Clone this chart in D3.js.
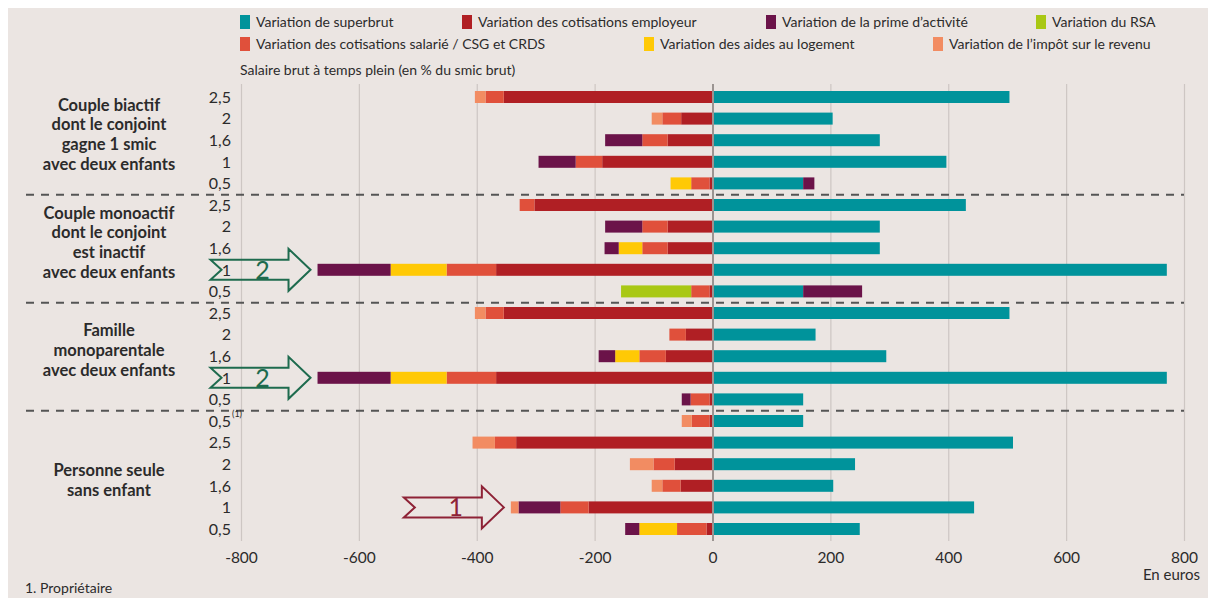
<!DOCTYPE html>
<html lang="fr">
<head>
<meta charset="utf-8">
<script src="https://cdn.jsdelivr.net/npm/d3@7"></script>
<style>
body { margin:0; background:#fff; }
svg { display:block; font-family: Lato, "Open Sans", sans-serif; }
text { fill:#2b2b2b; }
line.grid { stroke:#cdc6c3; stroke-width:1.2; }
line.zero { stroke:#9b9491; stroke-width:2; }
line.sep { stroke:#555; stroke-width:2; stroke-dasharray:8,7; }
text.glabel { font-weight:bold; font-size:16.5px; text-anchor:middle; }
text.rlabel { font-size:16px; text-anchor:end; }
text.tick { font-size:15.5px; text-anchor:middle; }
g.legend text { font-size:14px; }
</style>
<script>

var W = 1208, H = 598;

// series, in stacking order (positives: superbrut, prime ; negatives: the rest)
var seriesKeys = ['superbrut','employeur','salarie','rsa','logement','prime','impot'];
var seriesNames = {
	superbrut: 'Variation de superbrut',
	employeur: 'Variation des cotisations employeur',
	prime: 'Variation de la prime d\u2019activit\u00e9',
	rsa: 'Variation du RSA',
	salarie: 'Variation des cotisations salari\u00e9 / CSG et CRDS',
	logement: 'Variation des aides au logement',
	impot: 'Variation de l\u2019imp\u00f4t sur le revenu'
};
var seriesColors = {
	superbrut:'#00939b', employeur:'#b01f24', prime:'#6b1349', rsa:'#a9c814',
	salarie:'#e0503b', logement:'#ffc905', impot:'#f28c62'
};

var rowLabels = ['2,5','2','1,6','1','0,5', '2,5','2','1,6','1','0,5', '2,5','2','1,6','1','0,5', '0,5', '2,5','2','1,6','1','0,5'];
var rowNotes  = ['','','','','', '','','','','', '','','','','', '(1)', '','','','',''];
var rowGroup  = [0,0,0,0,0, 1,1,1,1,1, 2,2,2,2,2, 3, 3,3,3,3,3];
var groupLabels = [
	['Couple biactif','dont le conjoint','gagne 1 smic','avec deux enfants'],
	['Couple monoactif','dont le conjoint','est inactif','avec deux enfants'],
	['Famille','monoparentale','avec deux enfants'],
	['Personne seule','sans enfant']
];

var superbrut = [503,203,283,396,153, 429,283,283,770,153, 503,174,294,770,153, 153, 509,241,204,443,249];
var employeur = [-355,-54,-77,-188,-6, -303,-77,-77,-368,-6, -355,-46,-80,-368,-6, -6, -334,-65,-55,-211,-11];
var salarie   = [-31,-32,-43,-45,-31, -25,-43,-43,-84,-31, -31,-28,-45,-84,-32, -30, -36,-36,-31,-48,-50];
var rsa       = [0,0,0,0,0, 0,0,0,0,-119, 0,0,0,0,0, 0, 0,0,0,0,0];
var logement  = [0,0,0,0,-35, 0,0,-40,-95,0, 0,0,-41,-95,0, 0, 0,0,0,0,-64];
var prime     = [0,0,-63,-63,19, 0,-63,-24,-124,100, 0,0,-28,-124,-15, 0, 0,0,0,-71,-24];
var impot     = [-18,-18,0,0,0, 0,0,0,0,0, -18,0,0,0,0, -17, -38,-40,-18,-13,0];

var xTicks = [-800,-600,-400,-200,0,200,400,600,800];

// annotation arrows: row index, label, colour
var arrows = [
	{row:8, label:'2', color:'#1e6b4e'},
	{row:13, label:'2', color:'#1e6b4e'},
	{row:19, label:'1', color:'#8e2236'}
];

function doChart(){
	var svg = d3.select('#chart').attr('width', W).attr('height', H);

	svg.append('rect').attr('x',0).attr('y',0).attr('width',W).attr('height',H).attr('fill','#fff');
	svg.append('rect').attr('x',8).attr('y',8).attr('width',W-8).attr('height',H-8).attr('fill','#ebe5e2');

	var rows = d3.range(rowLabels.length);
	var x = d3.scaleLinear().domain([-800,800]).range([241.5,1184.5]);
	var y = d3.scaleBand().domain(rows).range([86.2,539.8]).padding(0);
	var barH = 12;
	var yc = function(i){ return y(i) + y.bandwidth()/2; };

	// grid
	svg.selectAll('line.grid')
		.data(xTicks.filter(function(d){return d!==0;}))
		.enter().append('line').attr('class','grid')
		.attr('x1',function(d){return x(d);}).attr('x2',function(d){return x(d);})
		.attr('y1',84).attr('y2',541);

	svg.selectAll('text.tick')
		.data(xTicks)
		.enter().append('text').attr('class','tick')
		.attr('x',function(d){return x(d);}).attr('y',563)
		.text(function(d){return d;});
	svg.append('text').attr('x',1200).attr('y',580).attr('text-anchor','end')
		.style('font-size','15px').text('En euros');

	// stacked bars
	var table = rows.map(function(i){
		return {row:i, superbrut:superbrut[i], employeur:employeur[i], salarie:salarie[i],
			rsa:rsa[i], logement:logement[i], prime:prime[i], impot:impot[i]};
	});
	var stack = d3.stack().keys(seriesKeys).offset(d3.stackOffsetDiverging);
	var layers = stack(table);

	svg.selectAll('g.layer')
		.data(layers)
		.enter().append('g').attr('class','layer')
		.attr('fill',function(d){return seriesColors[d.key];})
		.selectAll('rect')
		.data(function(d){return d.filter(function(s){return s[1]-s[0] !== 0;});})
		.enter().append('rect')
		.attr('x',function(s){return x(Math.min(s[0],s[1]));})
		.attr('width',function(s){return Math.abs(x(s[1])-x(s[0]));})
		.attr('y',function(s){return yc(s.data.row) - barH/2;})
		.attr('height',barH);

	svg.append('line').attr('class','zero')
		.attr('x1',x(0)).attr('x2',x(0)).attr('y1',84).attr('y2',541);

	// group separators
	var seps = [4,9,14];
	svg.selectAll('line.sep')
		.data(seps)
		.enter().append('line').attr('class','sep')
		.attr('x1',26).attr('x2',1184)
		.attr('y1',function(i){return y(i)+y.bandwidth()+0.5;})
		.attr('y2',function(i){return y(i)+y.bandwidth()+0.5;});

	// row labels
	svg.selectAll('text.rlabel')
		.data(rows)
		.enter().append('text').attr('class','rlabel')
		.attr('x',231).attr('y',function(i){return yc(i);}).attr('dy','0.36em')
		.text(function(i){return rowLabels[i];});
	rows.filter(function(i){return rowNotes[i];}).forEach(function(i){
		svg.append('text').attr('x',232).attr('y',yc(i)-4)
			.style('font-size','9px').text(rowNotes[i]);
	});

	// group labels
	groupLabels.forEach(function(lines, g){
		var ids = rows.filter(function(i){return rowGroup[i]===g && !rowNotes[i];});
		var c = d3.mean(ids, yc) - 6;
		var lh = 19.7;
		var top = c - (lines.length-1)*lh/2;
		svg.append('text').attr('class','glabel')
			.selectAll('tspan').data(lines).enter().append('tspan')
			.attr('x',109).attr('y',function(d,k){return top + k*lh;}).attr('dy','0.36em')
			.text(function(d){return d;});
	});

	// legend
	var legendItems = [
		{key:'superbrut', x:240, y:22}, {key:'employeur', x:462, y:22},
		{key:'prime', x:766, y:22}, {key:'rsa', x:1036, y:22},
		{key:'salarie', x:240, y:44}, {key:'logement', x:644, y:44},
		{key:'impot', x:933, y:44}
	];
	var lg = svg.append('g').attr('class','legend');
	var li = lg.selectAll('g').data(legendItems).enter().append('g')
		.attr('transform',function(d){return 'translate('+d.x+','+d.y+')';});
	li.append('rect').attr('x',0).attr('y',-7).attr('width',10).attr('height',14)
		.attr('fill',function(d){return seriesColors[d.key];});
	li.append('text').attr('x',16).attr('y',0).attr('dy','0.36em')
		.text(function(d){return seriesNames[d.key];});

	svg.append('text').attr('x',240).attr('y',70).attr('dy','0.36em')
		.style('font-size','14px').text('Salaire brut \u00e0 temps plein (en % du smic brut)');

	// annotation arrows pointing at the bar's left end
	arrows.forEach(function(a){
		var lo = d3.min(layers, function(l){ return l[a.row][0]; });
		var tip = x(lo) - 7, cy = yc(a.row);
		var x0 = tip - 100, xb = tip - 22;
		var p = 'M'+x0+','+(cy-10)+' L'+xb+','+(cy-10)+' L'+xb+','+(cy-21)+' L'+tip+','+cy+
			' L'+xb+','+(cy+21)+' L'+xb+','+(cy+10)+' L'+x0+','+(cy+10)+' L'+(x0+11)+','+cy+' Z';
		svg.append('path').attr('d',p).attr('fill','none')
			.attr('stroke',a.color).attr('stroke-width',2);
		svg.append('text').attr('x',x0+52).attr('y',cy+9).attr('text-anchor','middle')
			.style('font-size','25px').style('fill',a.color).text(a.label);
	});

	svg.append('text').attr('x',25).attr('y',593).style('font-size','14px').text('1. Propri\u00e9taire');
}

</script>
</head>
<body onload="doChart();">
<svg id="chart"></svg>
</body>
</html>
